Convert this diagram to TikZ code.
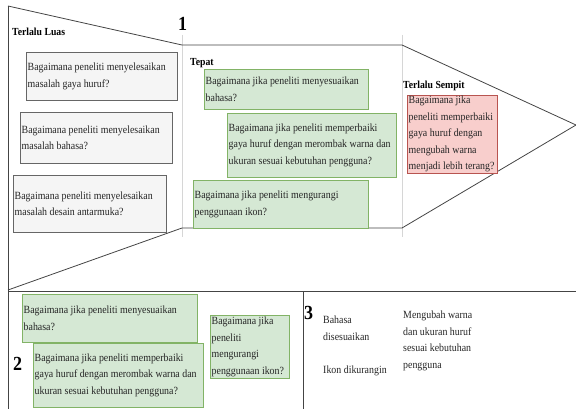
\documentclass[tikz,border=0pt]{standalone}
\usepackage{fontspec}
\setmainfont{Liberation Serif}[FakeStretch=0.9]
\usepackage{xcolor}
\definecolor{luasfill}{HTML}{F5F5F5}
\definecolor{luasline}{HTML}{666666}
\definecolor{tepatfill}{HTML}{D5E8D4}
\definecolor{tepatline}{HTML}{82B366}
\definecolor{sempitfill}{HTML}{F8CECC}
\definecolor{sempitline}{HTML}{B85450}
\definecolor{frameline}{HTML}{444444}
\definecolor{sepline}{HTML}{D6D6D6}
\tikzset{
  qtext/.style={font=\fontsize{11}{16.5}\selectfont, execute at begin node={\hyphenpenalty=10000\relax}, align=flush left, inner xsep=1.5pt, inner ysep=0pt, anchor=north west, text=black!85},
  luasq/.style={qtext, draw=luasline, fill=luasfill},
  tepatq/.style={qtext, draw=tepatline, fill=tepatfill},
  sempitq/.style={qtext, draw=sempitline, fill=sempitfill},
  zonelbl/.style={font=\bfseries\fontsize{10.8}{12}\selectfont, inner sep=0pt, anchor=base west},
  partnum/.style={font=\bfseries\fontsize{20}{20}\selectfont, inner sep=0pt, anchor=base west},
  outline/.style={frameline, line width=0.8pt},
}

\begin{document}
\begin{tikzpicture}[x=1pt, y=-1pt]
    \useasboundingbox (0,0) rectangle (576,409);

    % Funnel outline
    \coordinate (topleft) at (8,6);
    \coordinate (neckTL) at (182,45);
    \coordinate (neckTR) at (402,45);
    \coordinate (tip) at (576,125);
    \coordinate (neckBR) at (402,228);
    \coordinate (neckBL) at (182,228);
    \coordinate (funnelend) at (8,290);
    \draw[sepline] (182,35) -- (182,237);
    \draw[sepline] (402,35) -- (402,237);
    \draw[outline] (topleft) -- (neckTL) -- (neckTR) -- (tip) -- (neckBR) -- (neckBL) -- (funnelend);
    \draw[outline] (topleft) -- (8,409);

    % Lower panels
    \coordinate (midL) at (8,291);
    \coordinate (midR) at (576,291);
    \coordinate (splitT) at (303,291);
    \coordinate (splitB) at (303,409);
    \draw[outline] (midL) -- (midR);
    \draw[outline] (splitT) -- (splitB);

    % Zone labels
    \node[zonelbl] (luas) at (12,35.5) {Terlalu Luas};
    \node[partnum] (num1) at (178,31) {1};
    \node[zonelbl] (tepat) at (190,66) {Tepat};
    \node[zonelbl] (sempit) at (403,88.5) {Terlalu Sempit};

    % Terlalu Luas
    \node[luasq, text width=148pt, minimum height=48pt] (luas1) at (26,52) {Bagaimana peneliti menyelesaikan\\masalah gaya huruf?};
    \node[luasq, text width=149pt, minimum height=51pt] (luas2) at (20,112) {Bagaimana peneliti menyelesaikan\\masalah bahasa?};
    \node[luasq, text width=150pt, minimum height=57pt] (luas3) at (13,175) {Bagaimana peneliti menyelesaikan\\masalah desain antarmuka?};

    % Tepat
    \node[tepatq, text width=161pt, minimum height=40pt] (tepat1) at (204,69) {Bagaimana jika peneliti menyesuaikan\\bahasa?};
    \node[tepatq, text width=166pt, minimum height=64pt] (tepat2) at (227,113) {Bagaimana jika peneliti memperbaiki\\gaya huruf dengan merombak warna dan\\ukuran sesuai kebutuhan pengguna?};
    \node[tepatq, text width=172pt, minimum height=48pt] (tepat3) at (193,180) {Bagaimana jika peneliti mengurangi\\penggunaan ikon?};

    % Terlalu Sempit
    \node[sempitq, text width=87pt, minimum height=78pt] (sempit1) at (407,95) {Bagaimana jika\\peneliti memperbaiki\\gaya huruf dengan\\mengubah warna\\menjadi lebih terang?};

    % Part 2
    \node[partnum] (num2) at (13,370) {2};
    \node[tepatq, text width=172pt, minimum height=48pt] (pilih1) at (22,294) {Bagaimana jika peneliti menyesuaikan\\bahasa?};
    \node[tepatq, text width=167pt, minimum height=64pt] (pilih2) at (33,343) {Bagaimana jika peneliti memperbaiki\\gaya huruf dengan merombak warna dan\\ukuran sesuai kebutuhan pengguna?};
    \node[tepatq, text width=76pt, minimum height=63pt] (pilih3) at (210,315) {Bagaimana jika\\peneliti\\mengurangi\\penggunaan ikon?};

    % Part 3
    \node[partnum] (num3) at (304,319) {3};
    \node[qtext, inner xsep=0pt] (hasil1) at (323,316) {Bahasa\\disesuaikan};
    \node[qtext, inner xsep=0pt] (hasil2) at (323,366) {Ikon dikurangin};
    \node[qtext, inner xsep=0pt] (hasil3) at (403,311) {Mengubah warna\\dan ukuran huruf\\sesuai kebutuhan\\pengguna};
\end{tikzpicture}
\end{document}
